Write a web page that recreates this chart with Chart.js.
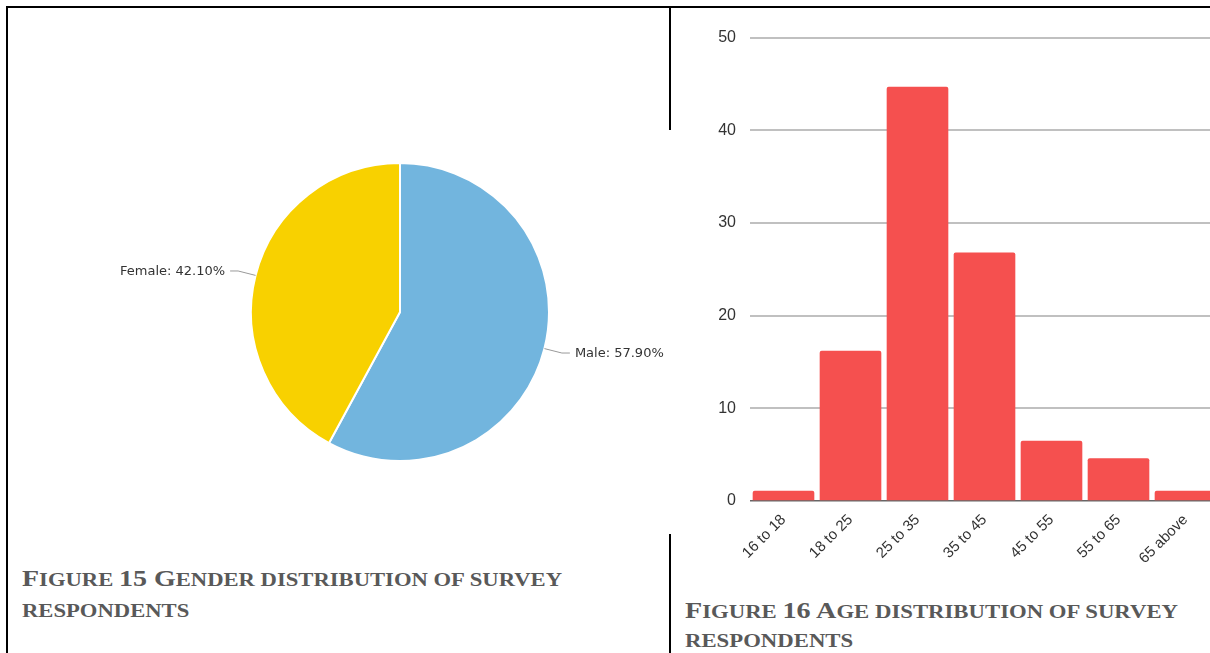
<!DOCTYPE html>
<html>
<head>
<meta charset="utf-8">
<script src="https://cdn.jsdelivr.net/npm/chart.js@4"></script>
<style>
  html, body { margin: 0; padding: 0; background: #fff; }
  body { width: 1210px; height: 653px; overflow: hidden; position: relative; }
  .line { position: absolute; background: #000; }
  .cap { position: absolute; font-family: "Liberation Serif", "Times New Roman", serif; font-weight: bold;
         color: #595959; font-size: 19px; white-space: nowrap; transform-origin: 0 0; }
  .cap .big { font-size: 23.5px; }
  #pieBox { position: absolute; left: 100px; top: 162px; }
  #barBox { position: absolute; left: 690px; top: 14px; }
</style>
</head>
<body>
<div class="line" style="left:6px;top:6px;width:1204px;height:2px"></div>
<div class="line" style="left:6px;top:6px;width:2px;height:647px"></div>
<div class="line" style="left:669px;top:6px;width:2px;height:124px"></div>
<div class="line" style="left:669px;top:534px;width:2px;height:119px"></div>

<div id="pieBox"><canvas id="genderChart" width="600" height="300"></canvas></div>
<div id="barBox"><canvas id="ageChart" width="529" height="567"></canvas></div>

<div class="cap" id="cap15" style="left:22px;top:563px;line-height:31px">
  <span class="big">F</span>IGURE <span class="big">15 G</span>ENDER DISTRIBUTION OF SURVEY<br>RESPONDENTS
</div>
<div class="cap" id="cap16" style="left:685px;top:596px;line-height:29px">
  <span class="big">F</span>IGURE <span class="big">16 A</span>GE DISTRIBUTION OF SURVEY<br>RESPONDENTS
</div>

<script>
// Figure 15 - gender
const genderLabels = ['Male', 'Female'];
const genderShares = [57.9, 42.1];
const genderColors = ['#72b5de', '#f8d100'];

// Figure 16 - age
const ageGroups = ['16 to 18', '18 to 25', '25 to 35', '35 to 45', '45 to 55', '55 to 65', '65 above'];
const ageCounts = [1.1, 16.2, 44.7, 26.8, 6.5, 4.6, 1.1];
const ageTickMax = 50;
const ageTickStep = 10;

// draws "Label: xx.xx%" outside each slice with a small leader line
const outLabels = {
    id: 'outLabels',
    afterDraw(chart) {
        const ctx = chart.ctx;
        const arcs = chart.getDatasetMeta(0).data;
        ctx.save();
        ctx.font = '13px "DejaVu Sans", Verdana, sans-serif';
        ctx.fillStyle = '#333';
        ctx.strokeStyle = '#999';
        ctx.lineWidth = 1;
        ctx.textBaseline = 'middle';
        arcs.forEach(function (arc, i) {
            const mid = (arc.startAngle + arc.endAngle) / 2;
            const r = arc.outerRadius;
            const px = arc.x + Math.cos(mid) * r;
            const py = arc.y + Math.sin(mid) * r;
            const ex = arc.x + Math.cos(mid) * (r + 18);
            const ey = arc.y + Math.sin(mid) * (r + 18);
            const right = Math.cos(mid) >= 0;
            const hx = right ? ex + 8 : ex - 8;
            ctx.beginPath();
            ctx.moveTo(px, py);
            ctx.lineTo(ex, ey);
            ctx.lineTo(hx, ey);
            ctx.stroke();
            const text = genderLabels[i] + ': ' + genderShares[i].toFixed(2) + '%';
            ctx.textAlign = right ? 'left' : 'right';
            ctx.fillText(text, right ? hx + 5 : hx - 5, ey + 1);
        });
        ctx.restore();
    }
};

// squeeze each caption's first line to the width it has in the figure
function fitCaption(id, width) {
    const el = document.getElementById(id);
    const probe = document.createElement('span');
    probe.innerHTML = el.innerHTML.split('<br>')[0];
    el.innerHTML = '';
    el.appendChild(probe);
    const rest = document.createTextNode('');
    const w = probe.getBoundingClientRect().width;
    el.appendChild(document.createElement('br'));
    el.appendChild(document.createTextNode('RESPONDENTS'));
    el.appendChild(rest);
    el.style.transform = 'scaleX(' + (width / w) + ')';
}

document.addEventListener('DOMContentLoaded', function () {
    fitCaption('cap15', 540);
    fitCaption('cap16', 493);

    const genderCanvas = document.getElementById('genderChart');
    new Chart(genderCanvas.getContext('2d'), {
        type: 'pie',
        data: {
            labels: genderLabels,
            datasets: [{
                data: genderShares,
                backgroundColor: genderColors,
                borderColor: '#fff',
                borderWidth: 2
            }]
        },
        options: {
            responsive: false,
            animation: false,
            layout: { padding: 0 },
            plugins: { legend: { display: false }, tooltip: { enabled: false } }
        },
        plugins: [outLabels]
    });

    const ageCanvas = document.getElementById('ageChart');
    new Chart(ageCanvas.getContext('2d'), {
        type: 'bar',
        data: {
            labels: ageGroups,
            datasets: [{
                label: 'Respondents',
                data: ageCounts,
                backgroundColor: '#f5504f',
                borderRadius: { topLeft: 2, topRight: 2 },
                borderSkipped: 'bottom',
                barPercentage: 0.92,
                categoryPercentage: 1.0
            }]
        },
        options: {
            responsive: false,
            animation: false,
            layout: { padding: { top: 10, right: 0, left: 0, bottom: 0 } },
            plugins: { legend: { display: false }, tooltip: { enabled: false } },
            scales: {
                x: {
                    grid: { display: false },
                    border: { display: false },
                    ticks: {
                        maxRotation: 45,
                        minRotation: 45,
                        padding: 2,
                        color: '#333',
                        font: { family: '"Liberation Sans", Arial, sans-serif', size: 15 }
                    },
                    afterFit: function (scale) { scale.height = 80; }
                },
                y: {
                    min: 0,
                    max: ageTickMax,
                    border: { display: false },
                    grid: {
                        drawTicks: false,
                        color: function (c) { return c.tick && c.tick.value === 0 ? '#666' : '#c0c0c0'; },
                        lineWidth: function (c) { return c.tick && c.tick.value === 0 ? 1.5 : 2; }
                    },
                    ticks: {
                        stepSize: ageTickStep,
                        padding: 14,
                        color: '#333',
                        font: { family: '"Liberation Sans", Arial, sans-serif', size: 16 }
                    },
                    afterFit: function (scale) { scale.width = 60; }
                }
            }
        }
    });
});
</script>
</body>
</html>
